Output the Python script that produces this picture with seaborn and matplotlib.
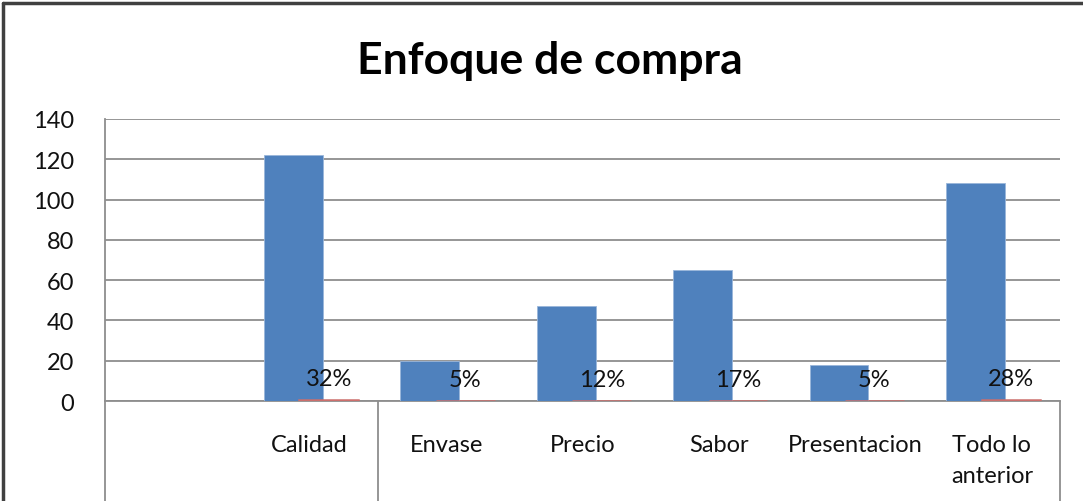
import matplotlib.pyplot as plt
import matplotlib.lines as mlines
import pandas as pd
import seaborn as sns

sns.set_theme(style="white")
plt.rcParams['font.family'] = ['Lato', 'DejaVu Sans']

# chart data
categories = ["", "Calidad", "Envase", "Precio", "Sabor", "Presentacion", "Todo lo anterior"]
tick_labels = ["", "Calidad", "Envase", "Precio", "Sabor", "Presentacion", "Todo lo\nanterior"]
enfoques = ["Calidad", "Envase", "Precio", "Sabor", "Presentacion", "Todo lo anterior"]
cantidad = [122, 20, 47, 65, 18, 108]
porcentaje = [0.32, 0.05, 0.12, 0.17, 0.05, 0.28]
y_ticks = [0, 20, 40, 60, 80, 100, 120, 140]

df = pd.DataFrame({"enfoque": enfoques, "cantidad": cantidad, "porcentaje": porcentaje})

blue = "#4F81BD"
red = "#C0504D"
grid_col = "#8e8e8e"
text_col = "#111111"

fig = plt.figure(figsize=(10.83, 5.02), dpi=100)
ax = fig.add_axes([0.097, 0.1992, 0.8818, 0.5618])

bar_w = 0.43
sns.barplot(data=df, x="enfoque", y="cantidad", order=categories, color=blue,
            width=bar_w, saturation=1, ax=ax, edgecolor="#9ab6da", linewidth=0.6)
n_blue = len(ax.patches)
sns.barplot(data=df, x="enfoque", y="porcentaje", order=categories, color=red,
            width=bar_w, saturation=1, ax=ax, edgecolor="#cc6f6c", linewidth=1.8)

# Excel-style overlapping series
for i, p in enumerate(ax.patches):
    shift = -0.12 if i < n_blue else 0.14
    p.set_x(p.get_x() + shift)
    p.set_zorder(3 if i < n_blue else 4)

ax.bar_label(ax.containers[1], labels=[f"{v:.0%}" for v in porcentaje],
             padding=8, fontsize=17, color=text_col)

ax.set_ylim(0, 140)
ax.set_xlim(-0.5, len(categories) - 0.5)
ax.set_yticks(y_ticks)
ax.set_xticks(range(len(categories)))
ax.set_xticklabels(tick_labels, linespacing=1.55)
ax.tick_params(axis="y", length=0, pad=22, labelsize=17, labelcolor=text_col)
ax.tick_params(axis="x", length=0, pad=24, labelsize=17, labelcolor=text_col)
ax.set_xlabel("")
ax.set_ylabel("")

ax.yaxis.grid(True, color=grid_col, linewidth=1.3)
ax.set_axisbelow(True)
for side in ["top", "right"]:
    ax.spines[side].set_visible(False)
ax.spines["left"].set_color(grid_col)
ax.spines["bottom"].set_color(grid_col)
ax.spines["left"].set_linewidth(1.3)
ax.spines["bottom"].set_linewidth(1.3)

# group separators of the category table below the axis
for xpos in [-0.5, 1.5, len(categories) - 0.5]:
    ax.axvline(xpos, ymin=-0.4, ymax=0, color=grid_col, linewidth=1.3, clip_on=False)

fig.suptitle("Enfoque de compra", fontsize=32, fontweight="bold", y=0.918, x=0.508,
             color="black")

# outer chart frame
fig.add_artist(mlines.Line2D([0.003, 0.003], [0, 0.993], color="#404040", linewidth=2.5))
fig.add_artist(mlines.Line2D([0.003, 1.0], [0.993, 0.993], color="#404040", linewidth=2.5))

ax.format_coord = lambda x, y: ''
plt.savefig("out.png", dpi=100)
plt.close()
